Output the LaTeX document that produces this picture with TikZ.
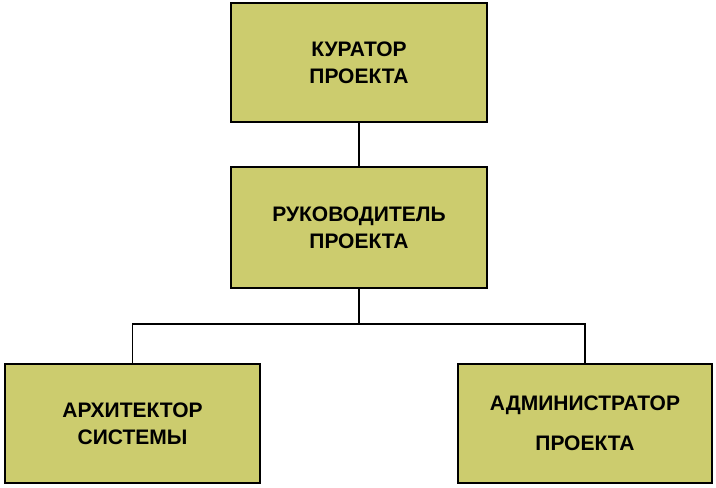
\documentclass[tikz,border=0pt]{standalone}
\usepackage{fontspec}
\setmainfont{Liberation Sans}
\begin{document}
\begin{tikzpicture}[x=1pt,y=-1pt,
  box/.style={draw=black,line width=1.5pt,fill={rgb,255:red,204;green,204;blue,110},align=center,font=\bfseries\fontsize{21}{27}\selectfont},
  conn/.style={line width=1.5pt}]
\useasboundingbox (0,0) rectangle (716,488);
\fill[white] (0,0) rectangle (716,488);
\node[box,minimum width=256pt,minimum height=119pt] (cur) at (359,62.5) {КУРАТОР\\ПРОЕКТА};
\node[box,minimum width=256pt,minimum height=121pt] (ruk) at (359,227.5) {РУКОВОДИТЕЛЬ\\ПРОЕКТА};
\node[box,minimum width=255pt,minimum height=119pt] (arh) at (132.5,423.5) {АРХИТЕКТОР\\СИСТЕМЫ};
\node[box,minimum width=254pt,minimum height=119pt,font=\bfseries\fontsize{21}{40}\selectfont] (adm) at (585,423.5) {АДМИНИСТРАТОР\\ПРОЕКТА};
\coordinate (j) at (359,324);
\draw[conn] (cur.south) -- (ruk.north);
\draw[conn] (ruk.south) -- (j);
\draw[conn] (arh.north) |- (j) -| (adm.north);
\end{tikzpicture}
\end{document}
